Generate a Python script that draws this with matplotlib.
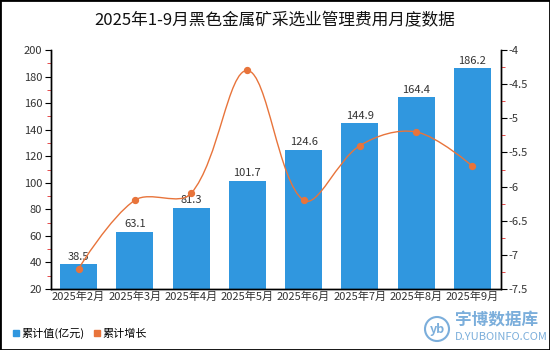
import numpy as np
import matplotlib
matplotlib.use('Agg')
import matplotlib.pyplot as plt
from matplotlib.path import Path
from matplotlib.patches import PathPatch, Rectangle, Circle
from matplotlib.ticker import MultipleLocator
from matplotlib.lines import Line2D

plt.rcParams['font.family'] = ['Noto Sans CJK SC', 'DejaVu Sans']

# 数据
months = ['2025年2月', '2025年3月', '2025年4月', '2025年5月',
          '2025年6月', '2025年7月', '2025年8月', '2025年9月']
cum_values = [38.5, 63.1, 81.3, 101.7, 124.6, 144.9, 164.4, 186.2]
cum_growth = [-7.2, -6.2, -6.1, -4.3, -6.2, -5.4, -5.2, -5.7]

title = '2025年1-9月黑色金属矿采选业管理费用月度数据'
bar_color = '#3097DF'
line_color = '#E8743B'
text_color = '#333333'


# 平滑曲线(类似 echarts smooth), 在像素坐标里算控制点
def smooth_path(ax, xs, ys, smooth=0.35):
    pts = ax.transData.transform(np.column_stack([xs, ys]))
    n = len(pts)
    cps = []
    for i in range(n):
        p = pts[i]
        if i == 0 or i == n - 1:
            cps.append((p, p))
            continue
        prev, nxt = pts[i - 1], pts[i + 1]
        v = nxt - prev
        d0 = np.hypot(*(p - prev))
        d1 = np.hypot(*(p - nxt))
        s = d0 + d1
        cps.append((p - v * smooth * d0 / s, p + v * smooth * d1 / s))
    verts = [pts[0]]
    codes = [Path.MOVETO]
    for i in range(1, n):
        verts += [cps[i - 1][1], cps[i][0], pts[i]]
        codes += [Path.CURVE4] * 3
    verts = ax.transData.inverted().transform(np.array(verts))
    return Path(verts, codes)


fig = plt.figure(figsize=(5.5, 3.5), dpi=100)
ax = fig.add_axes([50.5 / 550, 1 - 289 / 350, 450 / 550, 239 / 350])
ax2 = ax.twinx()

x = np.arange(len(months))
ax.bar(x, cum_values, width=0.66, color=bar_color, zorder=2)
for xi, v in zip(x, cum_values):
    ax.text(xi, v + 2, f'{v}', ha='center', va='bottom', fontsize=8, color=text_color)

ax.set_xlim(-0.5, len(months) - 0.5)
ax.set_ylim(20, 200)
ax.yaxis.set_major_locator(MultipleLocator(20))
ax.yaxis.set_minor_locator(MultipleLocator(10))
ax.set_xticks(x)
ax.set_xticklabels(months, fontsize=8, color=text_color)
ax.tick_params(axis='x', length=0, pad=2)
ax.tick_params(axis='y', which='major', length=4, labelsize=8, labelcolor=text_color, pad=2)
ax.tick_params(axis='y', which='minor', length=3, color='#E03030')

ax2.set_ylim(-7.5, -4)
ax2.yaxis.set_minor_locator(MultipleLocator(0.25))
ax2.set_yticks(np.arange(-7.5, -3.99, 0.5))
ax2.set_yticklabels([f'{t:g}'.replace('−', '-') for t in np.arange(-7.5, -3.99, 0.5)])
ax2.tick_params(axis='y', which='major', length=4, labelsize=8, labelcolor=text_color, pad=2)
ax2.tick_params(axis='y', which='minor', length=3, color='#E03030')

for a in (ax, ax2):
    a.spines['top'].set_visible(False)
    for s in ('left', 'right', 'bottom'):
        a.spines[s].set_linewidth(1)
        a.spines[s].set_color('black')

path = smooth_path(ax2, x, cum_growth)
ax2.add_patch(PathPatch(path, fill=False, edgecolor=line_color, lw=1.0, zorder=3))
ax2.scatter(x, cum_growth, s=18, color=line_color, zorder=4)

fig.text(0.5, 1 - 21 / 350, title, ha='center', va='center', fontsize=12, color='#111111')

# 图例
handles = [Line2D([], [], marker='s', ls='', color=bar_color, markersize=5),
           Line2D([], [], marker='s', ls='', color=line_color, markersize=5)]
fig.legend(handles, ['累计值(亿元)', '累计增长'], loc='center left',
           bbox_to_anchor=(0.005, 1 - 333 / 350), ncol=2, frameon=False,
           fontsize=8, handlelength=0.6, handletextpad=0.2, columnspacing=0.8)

# 水印
wm = '#7BAEDB'
fig.patches.append(Circle((437, 350 - 329), 12, transform=None,
                          fill=False, edgecolor=wm, lw=1.5))
fig.text(437 / 550, 1 - 329 / 350, 'yb', ha='center', va='center', fontsize=9,
         color=wm, style='italic', fontweight='bold')
fig.text(455 / 550, 1 - 320 / 350, '宇博数据库', ha='left', va='center', fontsize=12,
         color=wm, fontweight='bold')
fig.text(455 / 550, 1 - 337 / 350, 'D.YUBOINFO.COM', ha='left', va='center', fontsize=8,
         color=wm)

# 外框
fig.patches.append(Rectangle((0, 0), 1, 1, transform=fig.transFigure, fill=False,
                             edgecolor='black', lw=2))

fig.savefig('out.png', dpi=100)
